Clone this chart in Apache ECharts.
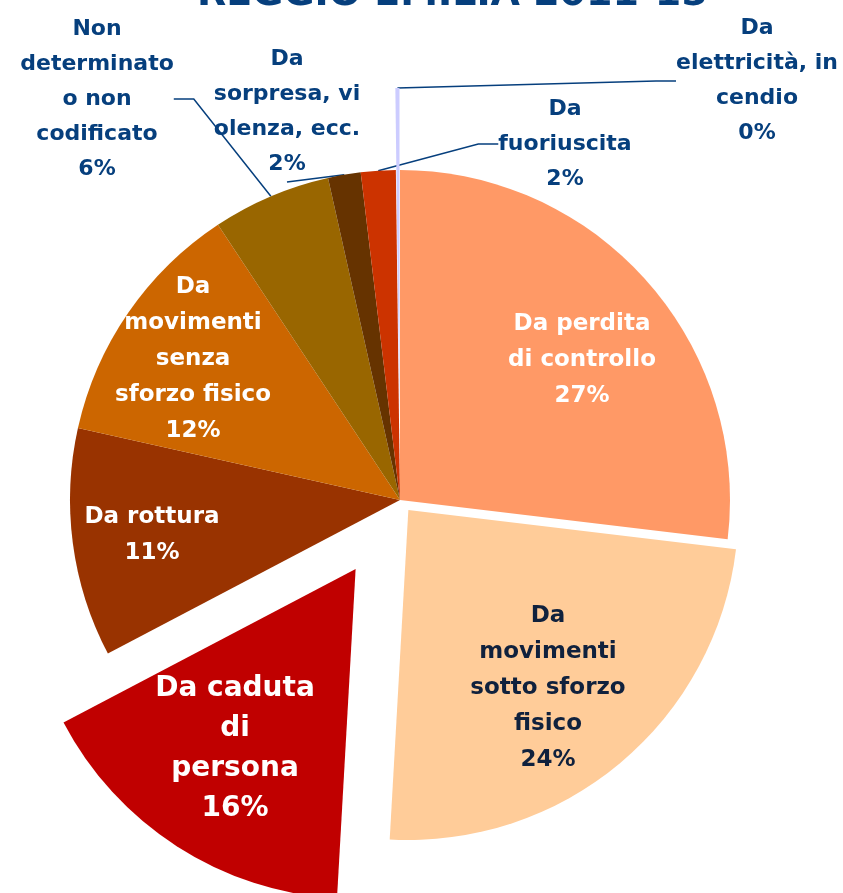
<!DOCTYPE html>
<html lang="it">
<head>
<meta charset="utf-8"/>
<title>Reggio Emilia 2011-15</title>
<script src="https://cdn.jsdelivr.net/npm/echarts@6/dist/echarts.min.js"></script>
<style>
  html, body { margin: 0; padding: 0; background: #fff; }
  #chart { width: 843px; height: 893px; }
</style>
</head>
<body>
<div id="chart"></div>
<script>
// categorie (ordine orario dalle ore 12)
const names = [
  'Da perdita di controllo',
  'Da movimenti sotto sforzo fisico',
  'Da caduta di persona',
  'Da rottura',
  'Da movimenti senza sforzo fisico',
  'Non determinato o non codificato',
  'Da sorpresa, violenza, ecc.',
  'Da fuoriuscita',
  'Da elettricità, incendio'
];
// quote in percentuale
const values = [26.9, 24.0, 16.4, 11.2, 12.2, 5.8, 1.6, 1.7, 0.2];
// testo delle etichette, come va a capo nell'originale
const labelLines = [
  'Da perdita\ndi controllo',
  'Da\nmovimenti\nsotto sforzo\nfisico',
  'Da caduta\ndi\npersona',
  'Da rottura',
  'Da\nmovimenti\nsenza\nsforzo fisico',
  'Non\ndeterminato\no non\ncodificato',
  'Da\nsorpresa, vi\nolenza, ecc.',
  'Da\nfuoriuscita',
  'Da\nelettricità, in\ncendio'
];

const colors = ['#FF9966', '#FFCC99', '#C00000', '#993300', '#CC6600', '#996600', '#663300', '#CC3300', '#CCCCFF'];
const navy = '#063f7d';
const pieCenter = [400, 500];
const pieRadius = 330;

// distanza di esplosione per fetta (px)
const explode = [0, 13, 82, 0, 0, 0, 0, 0, 82];
const outsideIdx = [5, 6, 7, 8];

// posizione (centro) di ciascuna etichetta
const labelPos = [
  [582, 360], [548, 688], [235, 749], [152, 535], [193, 359],
  [97, 99], [287, 112], [565, 144], [757, 81]
];

function labelStyle(i) {
  if (outsideIdx.indexOf(i) >= 0) {
    return { show: true, position: 'outside', color: navy, fontSize: 22, fontWeight: 'bold', lineHeight: 35 };
  }
  if (i === 2) {
    return { show: true, position: 'inside', color: '#fff', fontSize: 28, fontWeight: 'bold', lineHeight: 40 };
  }
  return {
    show: true, position: 'inside',
    color: i === 1 ? '#10213d' : '#fff',
    fontSize: 23, fontWeight: 'bold', lineHeight: 36
  };
}

function buildData(visible) {
  return names.map(function (n, i) {
    const show = visible.indexOf(i) >= 0;
    return {
      name: n,
      value: values[i],
      itemStyle: { color: show ? colors[i] : 'rgba(0,0,0,0)', borderWidth: 0 },
      label: show ? labelStyle(i) : { show: false },
      labelLine: { show: show && outsideIdx.indexOf(i) >= 0 }
    };
  });
}

function fmt(p) {
  return labelLines[p.dataIndex] + '\n' + Math.round(p.value) + '%';
}

function layoutFn(p) {
  const pos = labelPos[p.dataIndex];
  return { x: pos[0], y: pos[1], align: 'center', verticalAlign: 'middle' };
}

// centro spostato lungo la bisettrice della fetta
const total = values.reduce(function (a, b) { return a + b; }, 0);
function shiftedCenter(i) {
  let before = 0;
  for (let k = 0; k < i; k++) before += values[k];
  const mid = (before + values[i] / 2) / total * 2 * Math.PI;
  return [pieCenter[0] + explode[i] * Math.sin(mid), pieCenter[1] - explode[i] * Math.cos(mid)];
}

function makeSeries(visible, center) {
  return {
    type: 'pie',
    center: center,
    radius: pieRadius,
    startAngle: 90,
    clockwise: true,
    avoidLabelOverlap: false,
    animation: false,
    emphasis: { disabled: true },
    label: { fontFamily: 'DejaVu Sans', align: 'center', formatter: fmt },
    labelLine: { length: 20, length2: 20, lineStyle: { color: navy, width: 1.5 } },
    labelLayout: layoutFn,
    data: buildData(visible)
  };
}

const series = [];
const still = [];
names.forEach(function (n, i) { if (!explode[i]) still.push(i); });
series.push(makeSeries(still, pieCenter));
names.forEach(function (n, i) {
  if (explode[i]) series.push(makeSeries([i], shiftedCenter(i)));
});

const chart = echarts.init(document.getElementById('chart'), null, { renderer: 'canvas' });
chart.setOption({
  backgroundColor: '#fff',
  animation: false,
  title: {
    text: 'REGGIO EMILIA 2011-15',
    left: 192,
    top: -29,
    textStyle: { color: navy, fontFamily: 'DejaVu Sans', fontWeight: 'bold', fontSize: 38 }
  },
  series: series
});
</script>
</body>
</html>
